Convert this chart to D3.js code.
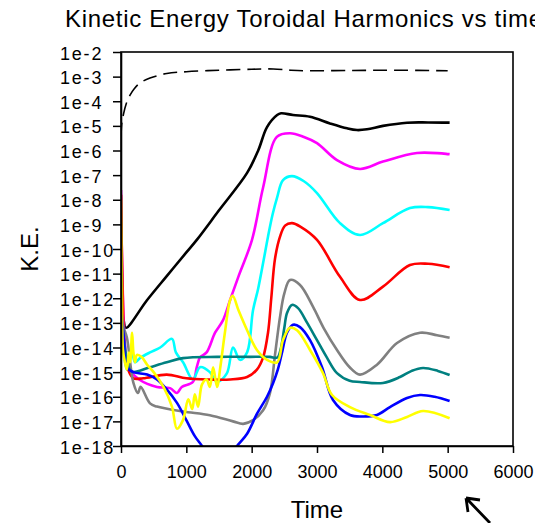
<!DOCTYPE html>
<html><head><meta charset="utf-8">
<script src="https://cdn.jsdelivr.net/npm/d3@7/dist/d3.min.js"></script>
<style>html,body{margin:0;padding:0;background:#fff;}svg{display:block;}</style>
</head><body>
<script>
// ---- data (times and log10 of kinetic energy) ----
const titleText = "Kinetic Energy Toroidal Harmonics vs time";
const xLabel = "Time";
const yLabel = "K.E.";
const xTicks = [0, 1000, 2000, 3000, 4000, 5000, 6000];
const yTickExps = [-2,-3,-4,-5,-6,-7,-8,-9,-10,-11,-12,-13,-14,-15,-16,-17,-18];

const totalT = [0, 8, 40, 80, 138, 200, 290, 444, 700, 1000, 1500, 2000, 2330, 2600, 2800, 3500, 4200, 5000];
const totalE = [-6.3, -5.0, -4.5, -4.1, -3.75, -3.5, -3.26, -3.06, -2.87, -2.8, -2.74, -2.70, -2.69, -2.74, -2.76, -2.75, -2.74, -2.76];

const blackT = [0, 40, 75, 400, 700, 1000, 1160, 1500, 1930, 2100, 2235, 2390, 2450, 2633, 2893, 3199, 3460, 3612, 3765, 4010, 4378, 4700, 5030];
const blackE = [-12.3, -12.9, -13.2, -12.07, -11.1, -10.14, -9.63, -8.43, -6.91, -6.0, -5.05, -4.56, -4.49, -4.56, -4.63, -4.9, -5.1, -5.17, -5.14, -5.0, -4.87, -4.86, -4.87];

const magentaT = [0, 20, 60, 110, 290, 550, 750, 857, 930, 1100, 1160, 1210, 1310, 1440, 1560, 1670, 1800, 2005, 2175, 2385, 2587, 2800, 3000, 3306, 3658, 4010, 4530, 5030];
const magentaE = [-7.6, -11, -13.8, -14.83, -15.32, -15.6, -15.65, -15.85, -15.6, -15.4, -14.8, -14.4, -14.2, -13.4, -12.9, -12.07, -11.1, -9.63, -7.5, -5.45, -5.3, -5.45, -5.7, -6.39, -6.75, -6.45, -6.1, -6.15];

const cyanT = [0, 20, 50, 90, 170, 215, 290, 444, 600, 780, 840, 950, 1100, 1210, 1360, 1470, 1620, 1715, 1820, 1930, 2020, 2100, 2180, 2250, 2320, 2390, 2480, 2617, 2800, 3000, 3352, 3658, 4010, 4423, 4700, 5030];
const cyanE = [-8.9, -12, -14.3, -14.9, -14.22, -14.6, -14.43, -14.2, -14.0, -13.65, -14.2, -14.6, -15.3, -14.8, -15.0, -15.4, -15.05, -14.0, -14.5, -14.2, -12.5, -11.6, -10.5, -9.5, -8.6, -7.9, -7.2, -7.04, -7.25, -7.73, -8.95, -9.43, -8.95, -8.34, -8.3, -8.42];

const redT = [0, 20, 60, 110, 190, 340, 700, 1000, 1360, 1670, 1930, 2080, 2175, 2250, 2300, 2357, 2434, 2511, 2617, 2750, 3000, 3352, 3658, 4010, 4423, 4700, 5030];
const redE = [-7.8, -11, -14.2, -14.9, -15.25, -15.25, -15.1, -15.25, -15.3, -15.3, -15.2, -14.9, -14.4, -13.4, -12.0, -10.4, -9.5, -9.05, -8.95, -9.1, -9.63, -11.13, -12.07, -11.53, -10.65, -10.6, -10.74];

const grayT = [0, 40, 90, 190, 260, 300, 444, 550, 950, 1360, 1715, 1870, 2020, 2175, 2280, 2357, 2434, 2500, 2587, 2740, 2940, 3100, 3306, 3500, 3658, 3918, 4225, 4577, 4837, 5030];
const grayE = [-12.8, -13.2, -13.6, -15.44, -15.85, -15.6, -16.27, -16.4, -16.6, -16.75, -17.0, -17.1, -16.95, -16.55, -15.85, -14.3, -12.76, -11.8, -11.26, -11.46, -12.35, -13.2, -14.1, -14.8, -15.1, -14.7, -13.82, -13.4, -13.5, -13.6];

const tealT = [0, 40, 90, 138, 190, 444, 700, 950, 1470, 1975, 2280, 2357, 2400, 2450, 2500, 2541, 2617, 2710, 2850, 3000, 3150, 3306, 3500, 3658, 4010, 4270, 4450, 4623, 4850, 5030];
const tealE = [-13.0, -13.6, -14.5, -14.91, -15.0, -14.8, -14.6, -14.43, -14.38, -14.38, -14.38, -14.42, -14.4, -14.0, -13.2, -12.6, -12.27, -12.4, -13.0, -13.7, -14.4, -15.04, -15.35, -15.4, -15.44, -15.2, -14.95, -14.83, -14.95, -15.12];

const blueT = [0, 40, 90, 190, 400, 550, 700, 857, 1000, 1130, 1240, 1500, 1775, 1930, 2080, 2235, 2327, 2400, 2465, 2541, 2633, 2740, 2893, 3077, 3245, 3505, 3704, 3918, 4117, 4378, 4577, 4800, 5030];
const blueE = [-12.3, -13.5, -14.8, -15.0, -15.1, -15.3, -15.7, -16.25, -16.95, -17.6, -18.0, -19.0, -18.0, -17.5, -16.7, -16.0, -15.45, -14.9, -14.2, -13.4, -13.08, -13.17, -13.7, -14.8, -16.13, -16.74, -16.8, -16.74, -16.42, -16.05, -15.93, -16.0, -16.17];

const yellowT = [0, 15, 30, 60, 90, 120, 140, 170, 190, 215, 245, 320, 400, 500, 650, 780, 857, 950, 1030, 1090, 1130, 1180, 1240, 1310, 1360, 1410, 1470, 1520, 1590, 1670, 1710, 1800, 1930, 2080, 2235, 2390, 2480, 2587, 2694, 2893, 3092, 3230, 3505, 3811, 4117, 4378, 4623, 5030];
const yellowE = [-8.0, -12, -14.1, -14.6, -14.9, -14.2, -14.6, -13.4, -14.2, -14.6, -14.3, -14.4, -14.7, -15.0, -15.6, -16.4, -17.3, -16.94, -16.1, -16.5, -15.9, -16.4, -15.5, -15.3, -15.6, -14.8, -15.6, -14.8, -13.4, -12.07, -11.9, -12.5, -13.3, -14.1, -14.5, -14.6, -13.7, -13.2, -13.3, -14.1, -15.04, -15.93, -16.42, -16.74, -17.03, -16.82, -16.58, -16.87];

const series = [
  {t: totalT, e: totalE, color: "#000000", width: 1.6, dash: "14,7"},
  {t: blackT, e: blackE, color: "#000000", width: 2.6},
  {t: magentaT, e: magentaE, color: "#ff00ff", width: 2.6},
  {t: cyanT, e: cyanE, color: "#00ffff", width: 2.6},
  {t: redT, e: redE, color: "#ff0000", width: 2.6},
  {t: grayT, e: grayE, color: "#808080", width: 2.6},
  {t: tealT, e: tealE, color: "#008080", width: 2.6},
  {t: blueT, e: blueE, color: "#0000ff", width: 2.6},
  {t: yellowT, e: yellowE, color: "#ffff00", width: 2.6}
];

// ---- drawing ----
const W = 535, H = 523;
const m = {left: 121, right: 513, top: 52, bottom: 446};
const svg = d3.select("body").append("svg").attr("width", W).attr("height", H);

const x = d3.scaleLinear().domain([0, 6000]).range([m.left, m.right]);
const y = d3.scaleLog().domain([1e-18, 1e-2]).range([m.bottom, m.top]);

svg.append("defs").append("clipPath").attr("id", "plotclip")
  .append("rect").attr("x", m.left).attr("y", m.top)
  .attr("width", m.right - m.left).attr("height", m.bottom - m.top);

const line = d3.line()
  .x(d => x(d[0]))
  .y(d => y(d[1]))
  .curve(d3.curveCatmullRom.alpha(0.5));

const g = svg.append("g").attr("clip-path", "url(#plotclip)");
series.forEach(s => {
  const pts = s.t.map((t, i) => [t, Math.pow(10, s.e[i])]);
  g.append("path").datum(pts)
    .attr("d", line)
    .attr("fill", "none")
    .attr("stroke", s.color)
    .attr("stroke-width", s.width)
    .attr("stroke-linejoin", "round")
    .attr("stroke-dasharray", s.dash || null);
});

// frame
svg.append("rect").attr("x", m.left).attr("y", m.top)
  .attr("width", m.right - m.left).attr("height", m.bottom - m.top)
  .attr("fill", "none").attr("stroke", "#000").attr("stroke-width", 1.6);

const font = "Liberation Sans, Arial, sans-serif";

// y axis
const yAxis = d3.axisLeft(y)
  .tickValues(yTickExps.map(e => Math.pow(10, e)))
  .tickFormat((d, i) => "1e" + yTickExps[i])
  .tickSize(8).tickSizeOuter(0);
const yg = svg.append("g").attr("transform", `translate(${m.left},0)`).call(yAxis);
yg.select(".domain").attr("stroke", "#000").attr("stroke-width", 1.6);
yg.selectAll(".tick line").attr("stroke", "#000").attr("stroke-width", 1.5);
yg.selectAll(".tick text")
  .attr("x", 60 - m.left).attr("dy", null).attr("y", 7)
  .attr("text-anchor", "start")
  .attr("font-family", font).attr("font-size", 18)
  .attr("letter-spacing", 1.8)
  .attr("fill", "#000");

// x axis
const xAxis = d3.axisBottom(x).tickValues(xTicks).tickFormat(d3.format("d"))
  .tickSize(7).tickSizeOuter(0);
const xg = svg.append("g").attr("transform", `translate(0,${m.bottom})`).call(xAxis);
xg.select(".domain").attr("stroke", "#000").attr("stroke-width", 1.6);
xg.selectAll(".tick line").attr("stroke", "#000").attr("stroke-width", 1.5);
xg.selectAll(".tick text")
  .attr("y", 32).attr("dy", null)
  .attr("font-family", font).attr("font-size", 18)
  .attr("fill", "#000");

// titles
svg.append("text").attr("x", 65).attr("y", 27)
  .attr("font-family", font).attr("font-size", 24).attr("letter-spacing", 0.7)
  .attr("fill", "#000").text(titleText);
svg.append("text").attr("x", (m.left + m.right) / 2).attr("y", 518)
  .attr("text-anchor", "middle")
  .attr("font-family", font).attr("font-size", 24)
  .attr("fill", "#000").text(xLabel);
svg.append("text")
  .attr("transform", `translate(38,${(m.top + m.bottom) / 2}) rotate(-90)`)
  .attr("text-anchor", "middle")
  .attr("font-family", font).attr("font-size", 24)
  .attr("fill", "#000").text(yLabel);

// cursor arrow (decorative)
svg.append("path")
  .attr("d", "M466,498 L490,523 M466,498 L480,500 M466,498 L468,512")
  .attr("fill", "none").attr("stroke", "#000").attr("stroke-width", 2.8)
  .attr("stroke-linecap", "butt");
</script>
</body></html>
